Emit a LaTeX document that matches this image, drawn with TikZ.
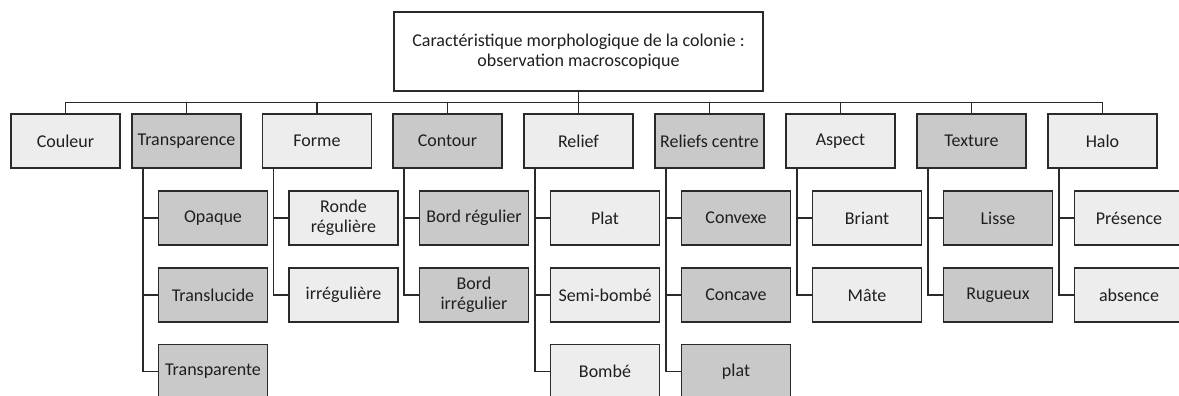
\documentclass[tikz,border=0pt]{standalone}
\usepackage{fontspec}
\setmainfont{Carlito}
\usepackage{tikz}
\definecolor{litegray}{HTML}{EDEDED}
\definecolor{darkgray2}{HTML}{C9C9C9}
\definecolor{edgegray}{HTML}{2A2A2A}

\begin{document}
\begin{tikzpicture}[x=1pt, y=-1pt,
	box/.style={draw=edgegray, line width=1.4pt, minimum width=109pt, minimum height=54pt, inner sep=1pt, align=center, text=black!88, font=\fontsize{18}{20}\selectfont},
	lite/.style={box, fill=litegray},
	dark/.style={box, fill=darkgray2},
	rootbox/.style={box, fill=white, minimum width=369pt, minimum height=79pt},
	link/.style={draw=edgegray, line width=1.4pt}]
	\clip (0,0) rectangle (1179,396);
	\node [rootbox] (root) at (578.5,51.5) {Caractéristique morphologique de la colonie :\\observation macroscopique};
	% first level
	\foreach \name/\x/\kind/\txt in {couleur/65.5/lite/Couleur, transp/186.5/dark/Transparence, forme/317/lite/Forme, contour/447.5/dark/Contour, relief/578.5/lite/Relief, centre/709.5/dark/Reliefs centre, aspect/840.5/lite/Aspect, texture/971.5/dark/Texture, halo/1102.5/lite/Halo}
	\node [\kind] (\name) at (\x,141) {\txt};
	\coordinate (bus) at (0,102.5);
	\draw [link] (couleur.north) -- (couleur.north |- bus) -- (halo.north |- bus) -- (halo.north);
	\foreach \name in {transp,forme,contour,relief,centre,aspect,texture}
	\draw [link] (\name.north) -- (\name.north |- bus);
	\draw [link] (root.south) -- (root.south |- bus);
	% second level
	\foreach \p/\c/\y/\kind/\txt in {transp/opaque/218/dark/Opaque, transp/transl/295/dark/Translucide, transp/transpa/371.5/dark/Transparente, forme/ronde/218/lite/{Ronde\\régulière}, forme/irreg/295/lite/irrégulière, contour/bordreg/218/dark/Bord régulier, contour/bordirr/295/dark/{Bord\\irrégulier}, relief/plat/218/lite/Plat, relief/semi/295/lite/Semi-bombé, relief/bombe/371.5/lite/Bombé, centre/convexe/218/dark/Convexe, centre/concave/295/dark/Concave, centre/platc/371.5/dark/plat, aspect/briant/218/lite/Briant, aspect/mate/295/lite/Mâte, texture/lisse/218/dark/Lisse, texture/rugueux/295/dark/Rugueux, halo/presence/218/lite/Présence, halo/absence/295/lite/absence}
	{
		\node [\kind, xshift=26.5pt] (\c) at (\p |- 0,\y) {\txt};
		\draw [link] ([xshift=11.5pt]\p.south west) |- (\c.west);
	}
\end{tikzpicture}
\end{document}
